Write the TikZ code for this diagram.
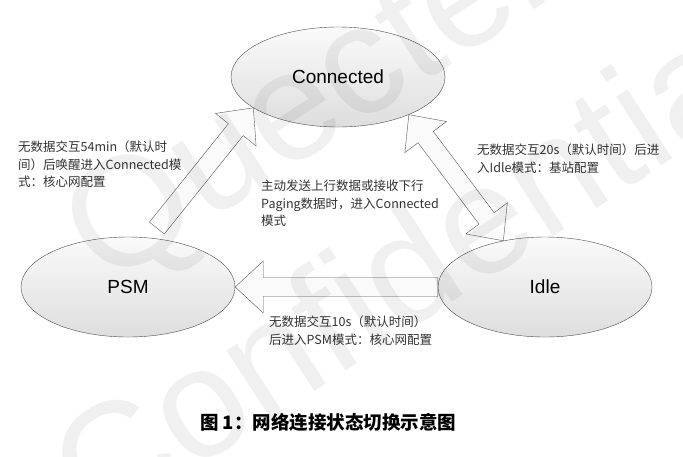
\documentclass[tikz,border=0pt]{standalone}
\usepackage{fontspec}
\setmainfont{Noto Sans CJK SC}
\newfontfamily\statefont{Liberation Sans}
\usetikzlibrary{shapes.geometric,calc}

\newcommand{\arrowshaft}{9.5}
\newcommand{\arrowhead}{26}
\newcommand{\arrowlen}{28}

% block arrow from #1 to #2
\newcommand{\blockarrow}[2]{%
  \draw[blockarrow] let \p1=($(#2)-(#1)$), \n1={atan2(\y1,\x1)}, \n2={veclen(\x1,\y1)} in
    {[shift={(#1)}, rotate=\n1]
    (0,-\arrowshaft) -- (\n2-\arrowlen,-\arrowshaft) -- (\n2-\arrowlen,-\arrowhead) -- (\n2,0)
    -- (\n2-\arrowlen,\arrowhead) -- (\n2-\arrowlen,\arrowshaft) -- (0,\arrowshaft) -- cycle};}

% block arrow with a head at both ends
\newcommand{\doublearrow}[2]{%
  \draw[blockarrow] let \p1=($(#2)-(#1)$), \n1={atan2(\y1,\x1)}, \n2={veclen(\x1,\y1)} in
    {[shift={(#1)}, rotate=\n1]
    (0,0) -- (\arrowlen,-\arrowhead) -- (\arrowlen,-\arrowshaft) -- (\n2-\arrowlen,-\arrowshaft)
    -- (\n2-\arrowlen,-\arrowhead) -- (\n2,0) -- (\n2-\arrowlen,\arrowhead) -- (\n2-\arrowlen,\arrowshaft)
    -- (\arrowlen,\arrowshaft) -- (\arrowlen,\arrowhead) -- cycle};}

\begin{document}
\begin{tikzpicture}[
   x=1pt, y=-1pt,
   state/.style={ellipse, draw=black!70, top color=black!2, bottom color=black!13,
      minimum width=214pt, minimum height=100pt, inner sep=0pt,
      font=\statefont\fontsize{19}{22}\selectfont},
   blockarrow/.style={draw=black!65, fill=black!2, line join=miter},
   note/.style={anchor=north west, align=left, inner sep=0pt, text=black!80,
      font=\fontsize{12.5}{17.5}\selectfont}  % <-- line break with \\
]
\useasboundingbox[fill=white] (0,0) rectangle (683,456);

\node[state] (Connected) at (338,77) {Connected};
\node[state] (PSM) at (128,287) {PSM};
\node[state] (Idle) at (545,287) {Idle};

\coordinate (psm-out) at ($(PSM.64)+(5,-10)$);
\blockarrow{psm-out}{Connected.200}
\doublearrow{Connected.332}{Idle.132}
\blockarrow{Idle.west}{PSM.east}

\node[note] (wake) at (18,141) {无数据交互54min（默认时\\间）后唤醒进入Connected模\\式：核心网配置};
\node[note] (paging) at (261,180) {主动发送上行数据或接收下行\\Paging数据时，进入Connected\\模式};
\node[note] (release) at (477,144) {无数据交互20s（默认时间）后进\\入Idle模式：基站配置};
\node[note] (sleep) at (269,316) {无数据交互10s（默认时间）\\后进入PSM模式：核心网配置};

\node[font=\bfseries\fontsize{18.5}{22}\selectfont] (caption) at (328,422) {图 1：网络连接状态切换示意图};

% watermark
\node[rotate=33, align=center, opacity=0.06, text opacity=0.06,
   font=\statefont\fontsize{155}{200}\selectfont] (mark) at (355,180) {Quectel\\Confidential};
\end{tikzpicture}
\end{document}
